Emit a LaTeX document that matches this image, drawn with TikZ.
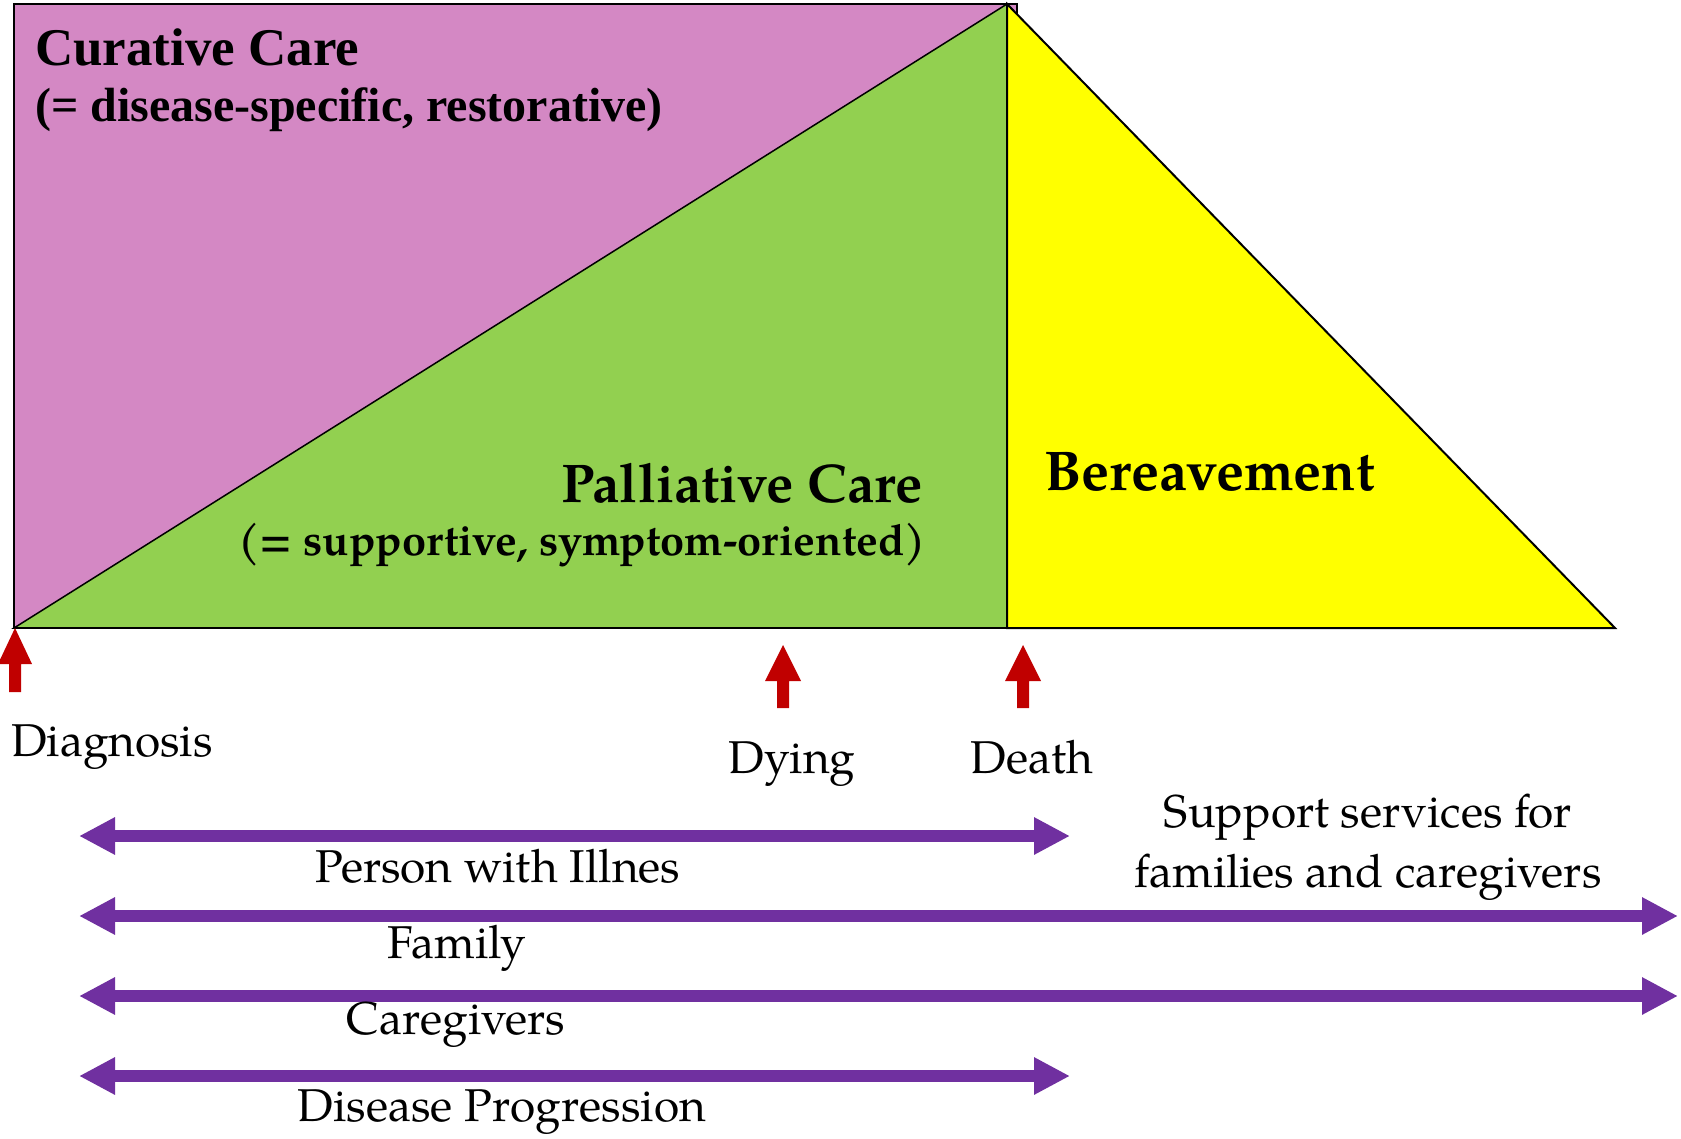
\documentclass[tikz,border=0pt]{standalone}
\usepackage{fontspec}
\setmainfont{texgyrepagella}[Extension=.otf,UprightFont=*-regular,BoldFont=*-bold,ItalicFont=*-italic,BoldItalicFont=*-bolditalic]
\newfontfamily\timesf{Liberation Serif}
\usetikzlibrary{arrows.meta}
\definecolor{pinkc}{RGB}{212,136,196}
\definecolor{greenc}{RGB}{146,208,80}
\definecolor{yellowc}{RGB}{255,255,0}
\definecolor{redc}{RGB}{192,0,0}
\definecolor{purplec}{RGB}{112,48,160}
\tikzset{
  region/.style={draw=black, line width=2pt, line join=miter},
  lbl/.style={inner sep=0pt, font=\fontsize{46}{55}\selectfont},
  cureT/.style={inner sep=0pt, font=\timesf\bfseries\fontsize{53}{60}\selectfont},
  cureS/.style={inner sep=0pt, font=\timesf\bfseries\fontsize{48}{56}\selectfont},
  palT/.style={inner sep=0pt, font=\bfseries\fontsize{54.5}{60}\selectfont},
  berT/.style={inner sep=0pt, font=\bfseries\fontsize{56}{62}\selectfont},
  palS/.style={inner sep=0pt, font=\bfseries\fontsize{43.3}{50}\selectfont},
  redarrow/.style={fill=redc},
  span/.style={draw=purplec, line width=12pt,
    {Triangle[length=36pt,width=35pt]}-{Triangle[length=36pt,width=35pt]}},
}
\begin{document}
\begin{tikzpicture}[x=1pt,y=-1pt]
\useasboundingbox (0,0) rectangle (1681,1139);
% regions
\coordinate (tl) at (14,4);
\coordinate (bl) at (14,628);
\coordinate (apex) at (1007,4);
\coordinate (dbase) at (1007,628);
\coordinate (br) at (1615,628);
\filldraw[region, fill=pinkc] (tl) rectangle (1017,628);
\filldraw[region, fill=greenc, line width=1.5pt] (bl) -- (apex) -- (dbase) -- cycle;
\filldraw[region, fill=yellowc] (apex) -- (br) -- (dbase) -- cycle;
\draw[line width=2.5pt] (bl) -- (br);
% titles
\node[cureT, anchor=base west] (cur) at (35,66) {Curative Care};
\node[cureS, anchor=base west] (curs) at (35,122) {(= disease-specific, restorative)};
\node[palT, anchor=base east] (pal) at (923,502) {Palliative Care};
\node[palS, anchor=base east] (pals) at (926,555) {(= supportive, symptom-oriented)};
\node[berT, anchor=base west] (ber) at (1044,490) {Bereavement};
% red arrows
\fill[redarrow] (15,628) -- (32,664) -- (21,664) -- (21,692) -- (9,692) -- (9,664) -- (-2,664) -- cycle;
\fill[redarrow] (783,645) -- (801,681) -- (789,681) -- (789,708) -- (777,708) -- (777,681) -- (765,681) -- cycle;
\fill[redarrow] (1023,645) -- (1041,681) -- (1029,681) -- (1029,708) -- (1017,708) -- (1017,681) -- (1005,681) -- cycle;
\node[lbl, anchor=base west] (diag) at (11,756) {Diagnosis};
\node[lbl, anchor=base] (dying) at (792,773) {Dying};
\node[lbl, anchor=base] (death) at (1032,773) {Death};
% spans
\coordinate (p1) at (79,836);   \coordinate (p2) at (1070,836);
\coordinate (f1) at (79,916);   \coordinate (f2) at (1678,916);
\coordinate (c1) at (79,996);   \coordinate (c2) at (1678,996);
\coordinate (d1) at (79,1076);  \coordinate (d2) at (1070,1076);
\draw[span] (p1) -- (p2);
\draw[span] (f1) -- (f2);
\draw[span] (c1) -- (c2);
\draw[span] (d1) -- (d2);
\node[lbl, anchor=base] (person) at (498,882) {Person with Illnes};
\node[lbl, anchor=base] (family) at (457,958) {Family};
\node[lbl, anchor=base] (care) at (456,1034) {Caregivers};
\node[lbl, anchor=base] (prog) at (502,1121) {Disease Progression};
\node[lbl, anchor=base] (sup1) at (1368,827) {Support services for};
\node[lbl, anchor=base] (sup2) at (1368,887) {families and caregivers};
\end{tikzpicture}
\end{document}
